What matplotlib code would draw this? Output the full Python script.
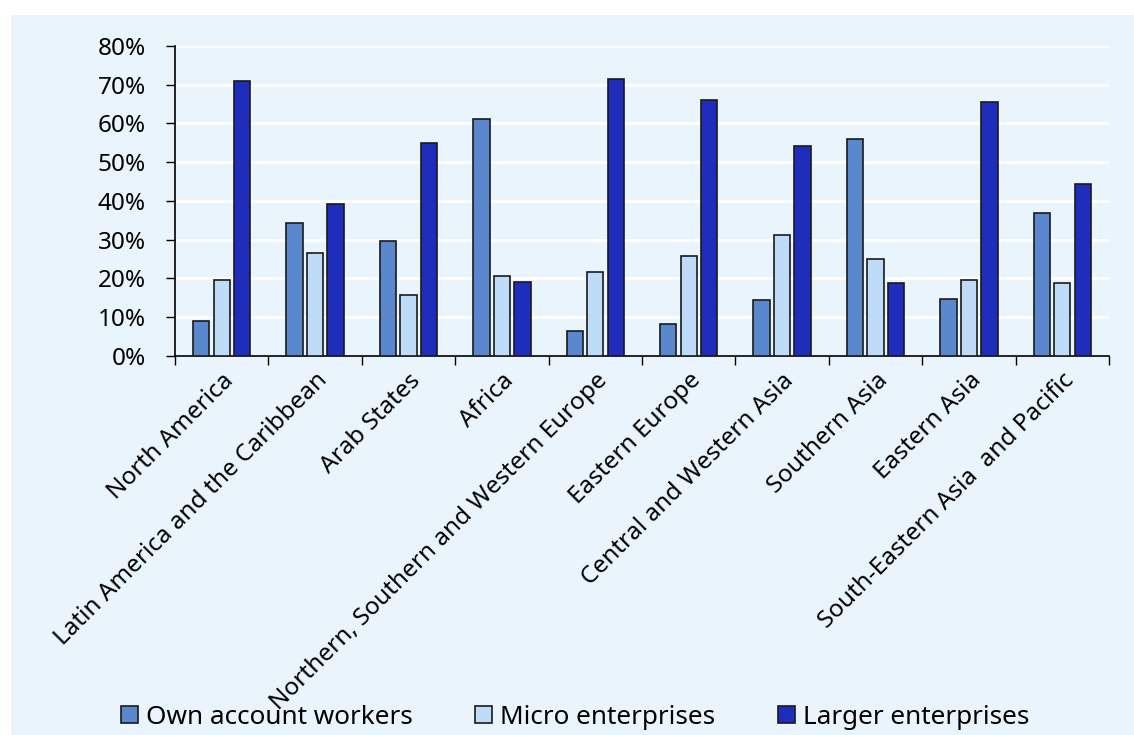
import numpy as np
import matplotlib.pyplot as plt
from matplotlib.patches import Rectangle

plt.rcParams['font.family'] = ['Noto Sans', 'DejaVu Sans']

regions = ['North America', 'Latin America and the Caribbean', 'Arab States', 'Africa',
           'Northern, Southern and Western Europe', 'Eastern Europe',
           'Central and Western Asia', 'Southern Asia', 'Eastern Asia',
           'South-Eastern Asia  and Pacific']
own_account = [9.0, 34.4, 29.6, 61.2, 6.5, 8.3, 14.5, 56.0, 14.8, 36.8]
micro = [19.6, 26.5, 15.8, 20.6, 21.7, 25.8, 31.2, 25.0, 19.6, 18.8]
larger = [71.0, 39.2, 55.0, 19.2, 71.5, 66.0, 54.3, 18.8, 65.6, 44.3]
series_names = ['Own account workers', 'Micro enterprises', 'Larger enterprises']
colors = ['#5b87cf', '#bedbf7', '#1f2dbd']

bg = '#eaf4fd'
fig = plt.figure(figsize=(11.34, 7.35), dpi=100)
fig.patch.set_facecolor('white')
fig.patches.append(Rectangle((11 / 1134, 0), 1, 1 - 15 / 735, transform=fig.transFigure,
                             facecolor=bg, edgecolor='none', zorder=-1))

ax = fig.add_axes([175 / 1134, 1 - 356 / 735, (1109 - 175) / 1134, (356 - 46) / 735])
ax.set_facecolor(bg)

x = np.arange(len(regions))
w = 0.175
step = 0.22
for i, (vals, name, c) in enumerate(zip([own_account, micro, larger], series_names, colors)):
    ax.bar(x + (i - 1) * step, np.array(vals) / 100, width=w, color=c,
           edgecolor='#1a1a1a', linewidth=1.2, label=name, zorder=3)

ax.set_xlim(-0.5, len(regions) - 0.5)
ax.set_ylim(0, 0.8)
ax.set_yticks(np.arange(0, 0.81, 0.1))
ax.set_yticklabels([f'{int(round(v * 100))}%' for v in np.arange(0, 0.81, 0.1)], fontsize=17.5)
ax.yaxis.grid(True, color='white', linewidth=2.2, zorder=0)
ax.set_axisbelow(True)

ax.set_xticks(x)
ax.set_xticklabels(regions, rotation=45, ha='right', rotation_mode='anchor', fontsize=17.5)
ax.tick_params(axis='x', which='major', length=0, pad=9)
ax.set_xticks(np.arange(-0.5, len(regions)), minor=True)
ax.tick_params(axis='x', which='minor', length=6.5, direction='out', width=1)
ax.tick_params(axis='y', length=6.5, width=1, pad=14.5)

for s in ['top', 'right']:
    ax.spines[s].set_visible(False)
for s in ['left', 'bottom']:
    ax.spines[s].set_linewidth(1.2)

fig.legend(loc='center', bbox_to_anchor=(0.507, 1 - 717 / 735), ncol=3, frameon=False,
           fontsize=18.8, handlelength=0.65, handleheight=0.65, handletextpad=0.3,
           columnspacing=2.4)

fig.savefig('out.png', dpi=100, facecolor=fig.get_facecolor())
